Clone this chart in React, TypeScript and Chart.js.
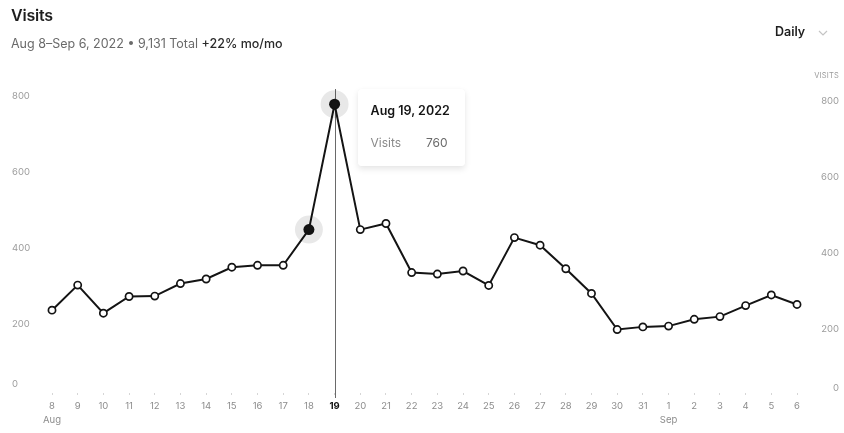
import React, { useEffect, useRef } from 'react';
import { Chart, registerables } from 'chart.js';

Chart.register(...registerables);

// Day-of-month labels, Aug 8 – Sep 6, 2022
const dayLabels = [
  '8', '9', '10', '11', '12', '13', '14', '15', '16', '17', '18', '19', '20', '21', '22', '23',
  '24', '25', '26', '27', '28', '29', '30', '31', '1', '2', '3', '4', '5', '6',
];

// Month name shown under the first day of each month
const monthMarks = [
  'Aug', '', '', '', '', '', '', '', '', '', '', '', '', '', '', '',
  '', '', '', '', '', '', '', '', 'Sep', '', '', '', '', '',
];

// Daily visits
const visits = [
  218, 284, 210, 254, 255, 288, 300, 331, 336, 336, 430, 760, 430, 446, 317, 313,
  321, 283, 409, 389, 327, 262, 167, 174, 176, 194, 201, 230, 258, 233,
];

const yTicks = [0, 200, 400, 600, 800];

// Points drawn as filled, haloed markers; the last one carries the tooltip
const highlighted = [10, 11];
const tooltipIndex = 11;

const YEAR = 2022;

function monthFor(index: number): string {
  for (let i = index; i >= 0; i--) {
    if (monthMarks[i]) return monthMarks[i];
  }
  return '';
}

// Vertical cursor line through the tooltip point
const cursorLine = {
  id: 'cursorLine',
  beforeDatasetsDraw(chart: any) {
    const el = chart.getDatasetMeta(0).data[tooltipIndex];
    if (!el) return;
    const { ctx, chartArea } = chart;
    ctx.save();
    ctx.strokeStyle = '#6a6a6a';
    ctx.lineWidth = 1;
    ctx.beginPath();
    ctx.moveTo(Math.round(el.x) + 0.5, chartArea.top);
    ctx.lineTo(Math.round(el.x) + 0.5, chartArea.bottom + 5);
    ctx.stroke();
    ctx.restore();
  },
};

// Value labels on both sides of the plot, placed from the y scale
const sideLabels = {
  id: 'sideLabels',
  afterDraw(chart: any) {
    const scale = chart.scales.y;
    const { ctx } = chart;
    ctx.save();
    ctx.font = '9.5px Inter';
    ctx.fillStyle = '#9c9c9c';
    ctx.textBaseline = 'middle';
    scale.ticks.forEach((t: any) => {
      const py = scale.getPixelForValue(t.value);
      ctx.textAlign = 'left';
      ctx.fillText(String(t.value), 12, py + (t.value === 0 ? -9 : 7));
      ctx.textAlign = 'right';
      ctx.fillText(String(t.value), chart.width - 5, py + (t.value === 0 ? -5 : 12));
    });
    ctx.restore();
  },
};

export default function App() {
  const canvasRef = useRef<HTMLCanvasElement | null>(null);
  const tipRef = useRef<HTMLDivElement | null>(null);
  const tipTitleRef = useRef<HTMLDivElement | null>(null);
  const tipLabelRef = useRef<HTMLSpanElement | null>(null);
  const tipValueRef = useRef<HTMLSpanElement | null>(null);

  useEffect(() => {
    if (!canvasRef.current) return;
    Chart.defaults.font.family = 'Inter';

    const chart = new Chart(canvasRef.current, {
      type: 'line',
      data: {
        labels: dayLabels,
        datasets: [
          {
            label: 'Visits',
            data: visits,
            borderColor: '#141414',
            borderWidth: 2,
            tension: 0,
            pointRadius: (c: any) => (highlighted.includes(c.dataIndex) ? 5.5 : 3.6),
            pointBackgroundColor: (c: any) => (highlighted.includes(c.dataIndex) ? '#141414' : '#ffffff'),
            pointBorderColor: (c: any) =>
              highlighted.includes(c.dataIndex) ? 'rgba(0,0,0,0.09)' : '#141414',
            pointBorderWidth: (c: any) => (highlighted.includes(c.dataIndex) ? 17 : 1.7),
          },
        ],
      },
      options: {
        animation: false,
        responsive: false,
        devicePixelRatio: 1,
        events: [],
        layout: { padding: { top: 89, left: 52, right: 47, bottom: 0 } },
        plugins: {
          legend: { display: false },
          tooltip: {
            enabled: false,
            external: ({ chart: ch, tooltip }: any) => {
              const tip = tipRef.current;
              if (!tip) return;
              if (tooltip.opacity === 0 || !tooltip.dataPoints || !tooltip.dataPoints.length) {
                tip.style.opacity = '0';
                return;
              }
              const dp = tooltip.dataPoints[0];
              const i = dp.dataIndex;
              if (tipTitleRef.current)
                tipTitleRef.current.textContent = `${monthFor(i)} ${dayLabels[i]}, ${YEAR}`;
              if (tipLabelRef.current) tipLabelRef.current.textContent = dp.dataset.label;
              if (tipValueRef.current) tipValueRef.current.textContent = String(dp.raw);
              tip.style.left = `${ch.canvas.offsetLeft + tooltip.caretX + 23}px`;
              tip.style.top = `${ch.canvas.offsetTop + tooltip.caretY - 15}px`;
              tip.style.opacity = '1';
            },
          },
        },
        scales: {
          x: {
            offset: false,
            border: { display: false },
            grid: {
              display: true,
              drawOnChartArea: false,
              drawTicks: true,
              tickLength: 2,
              color: '#d6d6d6',
            },
            ticks: {
              autoSkip: false,
              maxRotation: 0,
              padding: 4,
              callback: (_v: any, index: number) =>
                monthMarks[index] ? [dayLabels[index], monthMarks[index]] : dayLabels[index],
              color: (c: any) => (c.index === tooltipIndex ? '#111111' : '#8c8c8c'),
              font: (c: any) => ({
                size: 9.5,
                lineHeight: 1.45,
                weight: c.index === tooltipIndex ? 'bold' : 'normal',
              }),
            },
            afterFit: (s: any) => {
              s.height = 40;
            },
          },
          y: {
            display: false,
            min: yTicks[0],
            max: yTicks[yTicks.length - 1],
            ticks: { stepSize: yTicks[1] - yTicks[0] },
          },
        },
      },
      plugins: [cursorLine, sideLabels],
    });

    const pt: any = chart.getDatasetMeta(0).data[tooltipIndex];
    if (pt && chart.tooltip) {
      chart.tooltip.setActiveElements([{ datasetIndex: 0, index: tooltipIndex }], { x: pt.x, y: pt.y });
    }

    return () => {
      chart.destroy();
    };
  }, []);

  return (
    <div
      style={{
        position: 'absolute',
        left: 0,
        top: 0,
        width: 844,
        height: 433,
        background: '#ffffff',
        fontFamily: 'Inter, "Noto Sans", sans-serif',
        overflow: 'hidden',
      }}
    >
      <canvas
        ref={canvasRef}
        width={844}
        height={433}
        style={{ position: 'absolute', left: 0, top: 0, width: 844, height: 433, display: 'block' }}
      />
      <div
        style={{
          position: 'absolute',
          left: 11,
          top: 7,
          fontSize: 16,
          lineHeight: '17px',
          fontWeight: 600,
          color: '#1e1e1e',
          letterSpacing: -0.2,
        }}
      >
        Visits
      </div>
      <div
        style={{
          position: 'absolute',
          left: 11,
          top: 36,
          fontSize: 12.5,
          lineHeight: '16px',
          color: '#6a6a6a',
          whiteSpace: 'nowrap',
        }}
      >
        Aug 8–Sep 6, 2022 • 9,131 Total{' '}
        <span style={{ color: '#2a2a2a', fontWeight: 500 }}>+22% mo/mo</span>
      </div>
      <div
        style={{
          position: 'absolute',
          left: 775,
          top: 24,
          fontSize: 12.5,
          lineHeight: '16px',
          fontWeight: 600,
          color: '#1e1e1e',
        }}
      >
        Daily
      </div>
      <svg
        width={10}
        height={6}
        style={{ position: 'absolute', left: 818, top: 30 }}
        viewBox="0 0 10 6"
      >
        <polyline points="1,1 5,5 9,1" fill="none" stroke="#c4c4c4" strokeWidth={1.2} />
      </svg>
      <div
        style={{
          position: 'absolute',
          right: 5,
          top: 71,
          fontSize: 7.5,
          lineHeight: '10px',
          color: '#9c9c9c',
          letterSpacing: 0.2,
        }}
      >
        VISITS
      </div>
      <div
        ref={tipRef}
        style={{
          position: 'absolute',
          left: 0,
          top: 0,
          width: 107,
          height: 77,
          boxSizing: 'border-box',
          padding: '14px 17px 0 13px',
          background: '#ffffff',
          borderRadius: 3,
          boxShadow: '0 3px 6px rgba(0,0,0,0.10), 0 0 1px rgba(0,0,0,0.08)',
          opacity: 0,
          pointerEvents: 'none',
        }}
      >
        <div
          ref={tipTitleRef}
          style={{ fontSize: 12.5, lineHeight: '16px', fontWeight: 600, color: '#151515', whiteSpace: 'nowrap' }}
        />
        <div
          style={{
            display: 'flex',
            justifyContent: 'space-between',
            marginTop: 16,
            fontSize: 12,
            lineHeight: '16px',
          }}
        >
          <span ref={tipLabelRef} style={{ color: '#8a8a8a' }} />
          <span ref={tipValueRef} style={{ color: '#6a6a6a' }} />
        </div>
      </div>
    </div>
  );
}
